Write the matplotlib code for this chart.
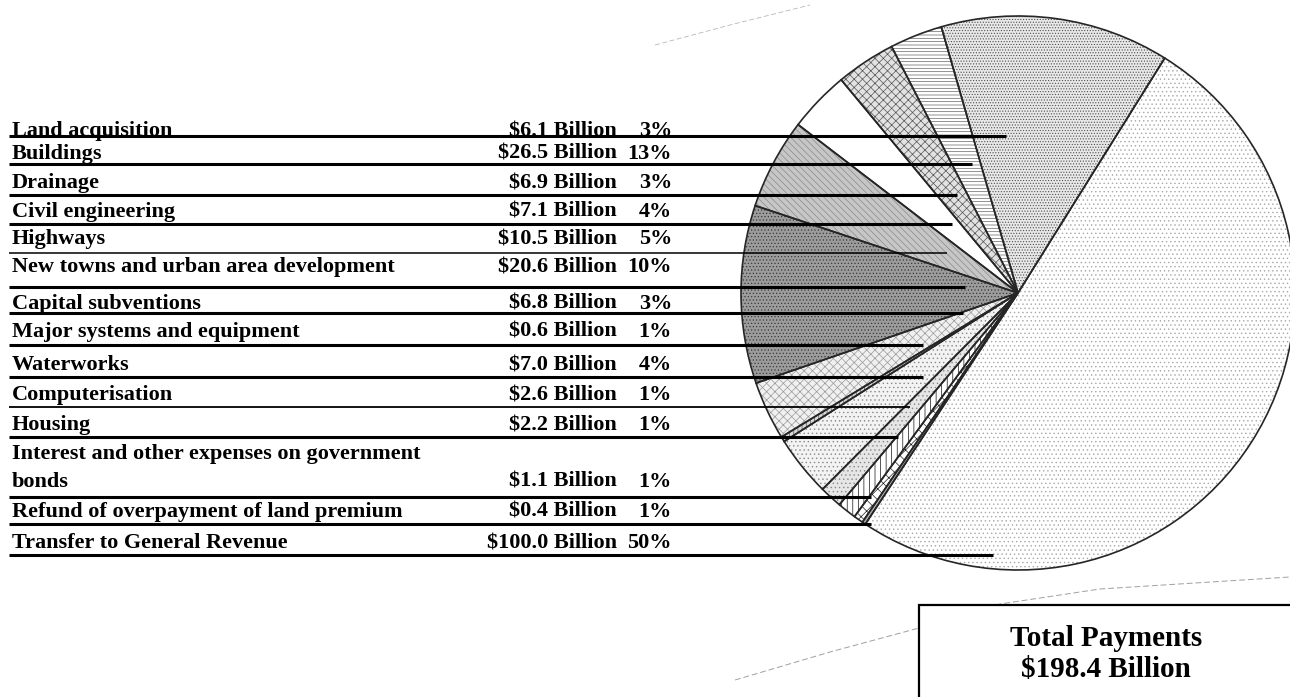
import matplotlib
matplotlib.use("Agg")
import matplotlib.pyplot as plt
from matplotlib.patches import Rectangle

# ---------------- data ----------------
categories = [
    "Land acquisition",
    "Buildings",
    "Drainage",
    "Civil engineering",
    "Highways",
    "New towns and urban area development",
    "Capital subventions",
    "Major systems and equipment",
    "Waterworks",
    "Computerisation",
    "Housing",
    "Interest and other expenses on government\nbonds",
    "Refund of overpayment of land premium",
    "Transfer to General Revenue",
]
values_bn = [6.1, 26.5, 6.9, 7.1, 10.5, 20.6, 6.8, 0.6, 7.0, 2.6, 2.2, 1.1, 0.4, 100.0]
value_labels = ["$6.1 Billion", "$26.5 Billion", "$6.9 Billion", "$7.1 Billion",
                "$10.5 Billion", "$20.6 Billion", "$6.8 Billion", "$0.6 Billion",
                "$7.0 Billion", "$2.6 Billion", "$2.2 Billion", "$1.1 Billion",
                "$0.4 Billion", "$100.0 Billion"]
pct_labels = ["3%", "13%", "3%", "4%", "5%", "10%", "3%", "1%", "4%", "1%", "1%", "1%", "1%", "50%"]
total_lines = ["Total Payments", "$198.4 Billion"]
# order in which the slices run counter-clockwise around the pie
pie_order = [1, 0, 2, 3, 4, 5, 6, 7, 8, 9, 10, 11, 12, 13]

# ---------------- styles / layout ----------------
W, H = 1290, 697
def Y(y):
    return H - y

styles = [  # face, hatch, hatch colour
    ("white",   "-----", "#666666"),   # Land acquisition
    ("#e8e8e8", "......", "#505050"),  # Buildings
    ("#e2e2e2", "xxxx",  "#555555"),   # Drainage
    ("white",   None,    "#000000"),   # Civil engineering
    ("#c6c6c6", "\\\\\\\\\\", "#8a8a8a"),  # Highways
    ("#9c9c9c", ".....", "#3a3a3a"),   # New towns
    ("#f0f0f0", "xxxx",  "#9a9a9a"),   # Capital subventions
    ("#d8d8d8", "||||",  "#555555"),   # Major systems
    ("#f3f3f3", "....",  "#8a8a8a"),   # Waterworks
    ("#e6e6e6", "....",  "#888888"),   # Computerisation
    ("white",   "|||",   "#111111"),   # Housing
    ("white",   "xxx",   "#222222"),   # Interest
    ("#b0b0b0", None,    "#000000"),   # Refund
    ("white",   "....",  "#a8a8a8"),   # Transfer
]

label_baselines = [136, 159, 188, 217, 244, 272, 309, 337, 370, 400, 430, 487, 517, 548]
line_y = [136, 164, 195, 224, 253, 287, 313, 345, 377, 407, 437, 497, 524, 555]
line_end = [1006, 972, 957, 952, 947, 965, 963, 923, 923, 910, 898, 871, 871, 993]
line_w = [2.2, 2.2, 2.2, 2.2, 1.1, 2.2, 2.2, 2.2, 2.2, 1.3, 2.2, 2.2, 2.2, 2.2]

plt.rcParams["hatch.linewidth"] = 0.5
FONT = ["Liberation Serif", "DejaVu Serif"]
FS = 16

fig = plt.figure(figsize=(W / 100, H / 100), dpi=100)
ax = fig.add_axes([0, 0, 1, 1])

pie_vals = [values_bn[i] for i in pie_order]
center = (1018, Y(293))
radius = 277

wedges, _ = ax.pie(pie_vals, center=center, radius=radius, startangle=58,
                   counterclock=True, frame=True, wedgeprops=dict(linewidth=0))
for w, i in zip(wedges, pie_order):
    face, hatch, hc = styles[i]
    w.set_facecolor(face)
    w.set_edgecolor(hc)
    w.set_linewidth(0)
    if hatch:
        w.set_hatch(hatch)

outline, _ = ax.pie(pie_vals, center=center, radius=radius, startangle=58,
                    counterclock=True, frame=True,
                    wedgeprops=dict(facecolor="none", edgecolor="#262626", linewidth=1.2))

# faint dashed guide lines (behind everything)
ax.plot([655, 730, 810], [Y(45), Y(25), Y(5)], color="#b8b8b8", lw=0.6,
        ls=(0, (6, 3)), zorder=0.5)
ax.plot([735, 830, 919, 1000, 1100, 1290], [Y(680), Y(652), Y(628), Y(604), Y(589), Y(577)],
        color="#a0a0a0", lw=0.7, ls=(0, (6, 3)), zorder=0.5)

# labels and leader lines
for k in range(len(categories)):
    ax.text(12, Y(label_baselines[k]), categories[k], family=FONT, weight="bold",
            fontsize=FS, ha="left", va="baseline", linespacing=1.5)
    ax.text(617, Y(label_baselines[k]), value_labels[k], family=FONT, weight="bold",
            fontsize=FS, ha="right", va="baseline")
    ax.text(672, Y(label_baselines[k]), pct_labels[k], family=FONT, weight="bold",
            fontsize=FS, ha="right", va="baseline")
    ax.plot([9, line_end[k]], [Y(line_y[k]), Y(line_y[k])], color="black",
            lw=line_w[k], solid_capstyle="butt", zorder=3)

# total box
ax.add_patch(Rectangle((919, -10), 400, Y(605) + 10, facecolor="white",
                       edgecolor="black", lw=1.6, zorder=4))
ax.text(1106, Y(646), total_lines[0], family=FONT, weight="bold", fontsize=21,
        ha="center", va="baseline", zorder=5)
ax.text(1106, Y(677), total_lines[1], family=FONT, weight="bold", fontsize=21,
        ha="center", va="baseline", zorder=5)

ax.set_xlim(0, W)
ax.set_ylim(0, H)
ax.set_aspect("auto")
ax.axis("off")
fig.savefig("out.png", dpi=100)
